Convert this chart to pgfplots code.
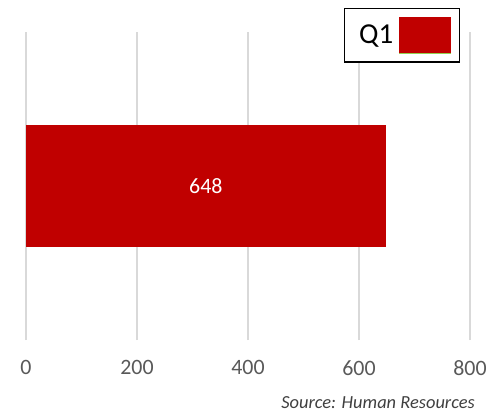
\documentclass[border=0pt]{standalone}
\usepackage{pgfplots}
\pgfplotsset{compat=1.18}
\usepackage{fontspec}
\setmainfont{Carlito}
\definecolor{barred}{HTML}{C00000}
\definecolor{gridgray}{HTML}{D9D9D9}
\definecolor{ticktext}{HTML}{595959}
\definecolor{srctext}{HTML}{404040}
\definecolor{legline}{HTML}{92D050}
\begin{document}
\begin{tikzpicture}[x=1bp,y=1bp]
\useasboundingbox (0,0) rectangle (488,412);
\begin{axis}[
  at={(26bp,72bp)}, anchor=south west,
  scale only axis, width=444bp, height=308bp,
  xmin=0, xmax=800, ymin=0, ymax=1,
  xtick={0,200,...,800}, ytick=\empty,
  axis line style={draw=none},
  major tick length=0pt,
  xmajorgrids, grid style={gridgray, line width=2bp},
  xticklabel style={font=\fontsize{22}{26}\selectfont, text=ticktext, yshift=-17bp},
  /pgf/number format/assume math mode=true,
  xbar, bar width=122bp,
  legend plot pos=right,
  legend style={at={(0.977,1.078)}, anchor=north east, draw=black, line width=1.2bp,
    font=\fontsize{29}{32}\selectfont, inner xsep=8bp, inner ysep=8bp,
    nodes={inner sep=0pt}, column sep=6bp},
  legend image code/.code={
    \fill[barred] (0bp,-18bp) rectangle (52bp,18bp);
    \fill[legline] (0bp,-18bp) rectangle (52bp,-19.5bp);},
]
\addplot[fill=barred, draw=none] coordinates {(648,0.5)};
\addlegendentry{\hspace{7bp}Q1}
\node[text=white, font=\fontsize{22}{26}\selectfont] at (axis cs:324,0.5) {648};
\end{axis}
\node[anchor=east, inner sep=0pt, text=srctext, font=\fontsize{18.5}{22}\selectfont\itshape] at (475,9) {Source: Human Resources};
\end{tikzpicture}
\end{document}
